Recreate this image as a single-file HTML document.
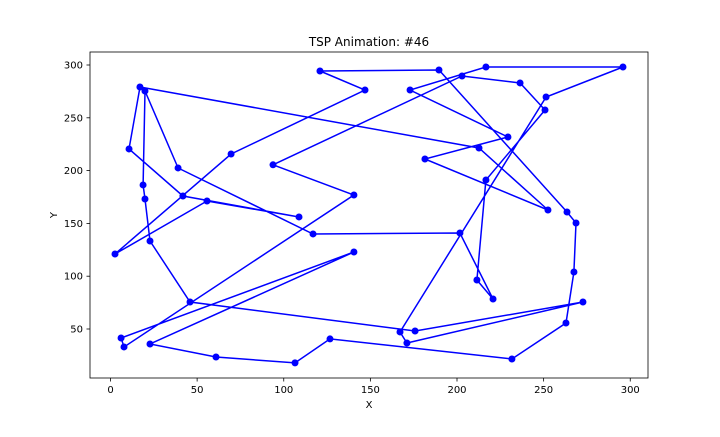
<!DOCTYPE html>
<html><head><meta charset="utf-8"><style>
html,body{margin:0;padding:0;background:#fff;}
svg text{font-family:"DejaVu Sans","Liberation Sans",sans-serif;fill:#000;}
</style></head><body>
<svg id="chart" width="720" height="432" xmlns="http://www.w3.org/2000/svg">
<rect width="720" height="432" fill="#fff"/>
<text x="369" y="46" font-size="12" text-anchor="middle">TSP Animation: #46</text>
<g id="ticks"></g>
<g id="marks"></g>
<rect x="90" y="52" width="558" height="326" fill="none" stroke="#000" stroke-width="0.8"/>
<text x="369" y="408" font-size="10" text-anchor="middle">X</text>
<text x="57" y="215" font-size="10" text-anchor="middle" transform="rotate(-90 57 215)">Y</text>
</svg>
<script>
const xs = [17.0,10.7,41.8,108.8,55.7,2.6,69.6,146.9,120.9,189.6,263.5,268.7,267.5,262.9,231.7,126.7,106.5,60.9,22.8,140.5,6.1,7.8,140.5,93.8,202.9,236.4,250.8,216.7,211.5,220.8,201.7,116.9,39.0,19.9,18.8,19.9,22.8,45.9,175.8,272.7,171.1,167.1,251.4,295.8,216.7,172.9,229.4,181.5,252.5,212.7];
const ys = [279.2,220.5,175.9,156.1,171.2,121.0,215.7,276.3,294.3,295.3,160.8,150.4,104.0,55.7,21.6,40.6,17.9,23.5,35.8,122.9,41.5,33.0,176.9,205.5,289.6,283.0,257.4,191.1,96.4,78.4,140.9,140.0,202.5,275.4,186.4,173.1,133.3,75.6,48.1,75.6,36.7,47.2,269.7,298.1,298.1,276.3,231.8,211.0,162.7,221.4];
const xTicks = [0,50,100,150,200,250,300];
const yTicks = [50,100,150,200,250,300];
function sx(v){return 110.5 + v*1.7325;}
function sy(v){return 381.8 - v*1.056;}
const NS='http://www.w3.org/2000/svg';
const tg=document.getElementById('ticks');
const mg=document.getElementById('marks');
xTicks.forEach(t=>{
  const l=document.createElementNS(NS,'line');
  l.setAttribute('x1',sx(t));l.setAttribute('x2',sx(t));l.setAttribute('y1',378);l.setAttribute('y2',381.5);
  l.setAttribute('stroke','#000');l.setAttribute('stroke-width','0.8');
  
  
  tg.appendChild(l);
  const tx=document.createElementNS(NS,'text');
  tx.setAttribute('x',sx(t));tx.setAttribute('y',393);tx.setAttribute('font-size','10');tx.setAttribute('text-anchor','middle');
  tx.textContent=t;
  
  
  tg.appendChild(tx);
});
yTicks.forEach(t=>{
  const l=document.createElementNS(NS,'line');
  l.setAttribute('x1',86.5);l.setAttribute('x2',90);l.setAttribute('y1',sy(t));l.setAttribute('y2',sy(t));
  l.setAttribute('stroke','#000');l.setAttribute('stroke-width','0.8');
  
  
  tg.appendChild(l);
  const tx=document.createElementNS(NS,'text');
  tx.setAttribute('x',83);tx.setAttribute('y',sy(t)+3.5);tx.setAttribute('font-size','10');tx.setAttribute('text-anchor','end');
  tx.textContent=t;
  
  
  tg.appendChild(tx);
});
let pts=xs.map((x,i)=>sx(x).toFixed(1)+','+sy(ys[i]).toFixed(1));
pts.push(pts[0]);
const pl=document.createElementNS(NS,'polyline');
pl.setAttribute('points',pts.join(' '));
pl.setAttribute('fill','none');pl.setAttribute('stroke','#0000ff');pl.setAttribute('stroke-width','1.5');


mg.appendChild(pl);
xs.forEach((x,i)=>{
  const c=document.createElementNS(NS,'circle');
  c.setAttribute('cx',sx(x));c.setAttribute('cy',sy(ys[i]));c.setAttribute('r',3.5);c.setAttribute('fill','#0000ff');
  
  
  mg.appendChild(c);
});
</script>
</body></html>
